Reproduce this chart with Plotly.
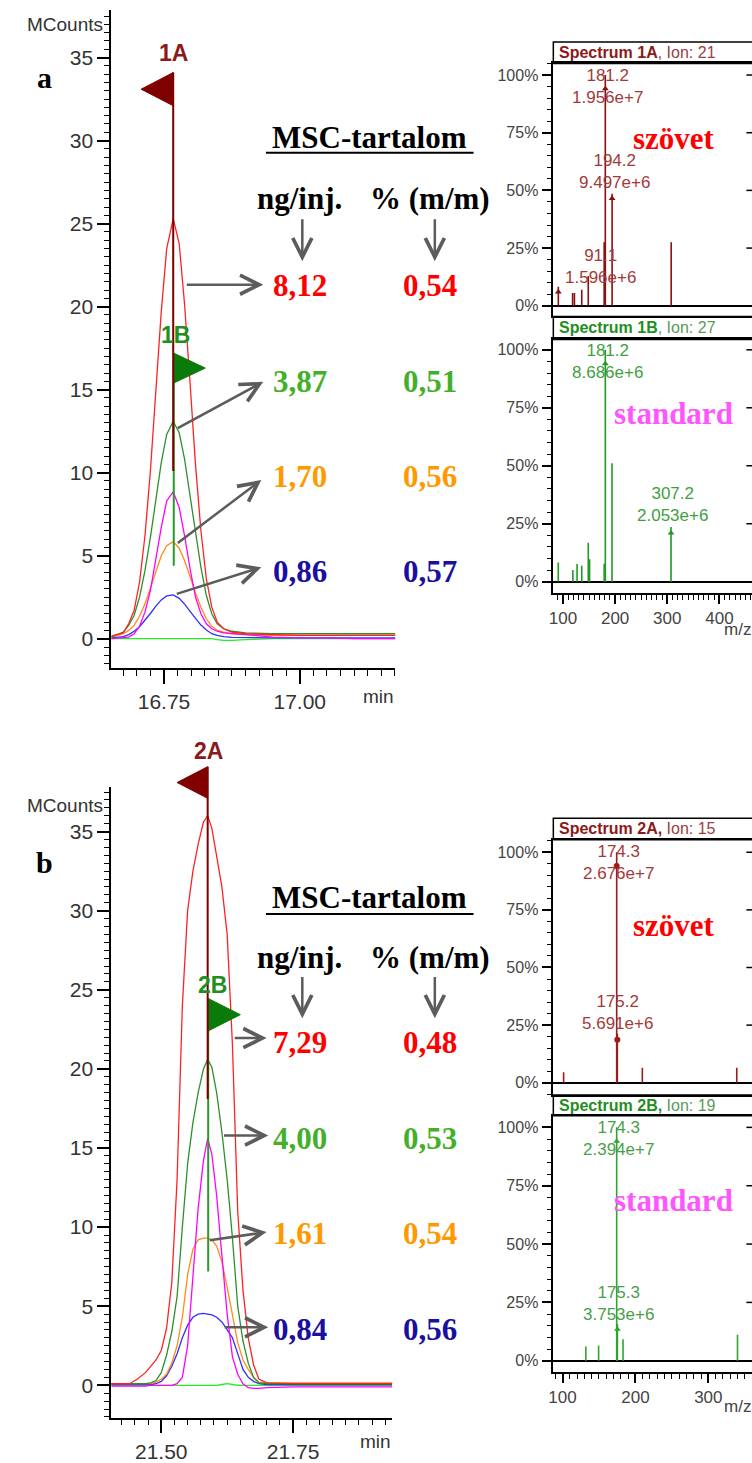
import plotly.graph_objects as go

W, H = 752, 1463
def px(x): return x / W
def py(y): return 1 - y / H

SERIF = "Liberation Serif"
SANS = "Liberation Sans"

# ---------------- chromatogram a (MCounts vs min) ----------------
time_a = [16.653, 16.675, 16.685, 16.695, 16.705, 16.715, 16.725, 16.735, 16.745, 16.755,
          16.767, 16.778, 16.788, 16.798, 16.808, 16.818, 16.828, 16.838, 16.848, 16.86,
          16.875, 16.9, 16.95, 17.0, 17.05, 17.1, 17.176]
red_a = [0.15, 0.35, 0.9, 1.7, 3.4, 6.2, 10.1, 14.8, 19.7, 23.5, 25.3, 23.8, 20.1, 15.4, 10.5,
         6.5, 3.6, 1.9, 1.0, 0.6, 0.4, 0.3, 0.25, 0.2, 0.2, 0.2, 0.2]
green_a = [0.1, 0.4, 0.8, 1.4, 2.5, 4.1, 6.1, 8.4, 10.6, 12.3, 13.1, 12.4, 10.8, 8.6, 6.3,
           4.3, 2.6, 1.5, 0.9, 0.6, 0.45, 0.35, 0.3, 0.3, 0.3, 0.3, 0.3]
magenta_a = [0.0, 0.05, 0.1, 0.3, 0.75, 1.6, 2.9, 4.8, 6.7, 8.3, 8.85, 7.9, 6.2, 4.2, 2.5,
             1.5, 0.9, 0.6, 0.45, 0.35, 0.3, 0.25, 0.1, 0.05, 0.05, 0.0, 0.0]
orange_a = [0.1, 0.3, 0.5, 0.8, 1.35, 2.1, 3.05, 4.05, 5.0, 5.6, 5.85, 5.45, 4.7, 3.75, 2.75,
            1.9, 1.2, 0.75, 0.5, 0.4, 0.3, 0.25, 0.2, 0.2, 0.2, 0.2, 0.2]
blue_a = [0.05, 0.13, 0.25, 0.45, 0.72, 1.09, 1.52, 1.96, 2.34, 2.58, 2.64, 2.43, 2.08, 1.65, 1.21,
          0.82, 0.52, 0.3, 0.2, 0.12, 0.08, 0.06, 0.05, 0.05, 0.05, 0.05, 0.05]
lime_a = [0.0, 0.0, 0.0, 0.0, 0.0, 0.0, 0.0, 0.0, 0.0, 0.0, 0.0, 0.0, 0.0, 0.0, 0.0,
          0.0, 0.0, 0.0, -0.05, -0.1, -0.1, -0.05, 0.0, 0.0, 0.0, 0.0, 0.0]

# ---------------- chromatogram b ----------------
time_b = [21.405, 21.44, 21.455, 21.47, 21.48, 21.49, 21.50, 21.51, 21.52, 21.53,
          21.54, 21.55, 21.56, 21.57, 21.58, 21.588, 21.596, 21.605, 21.615, 21.625,
          21.635, 21.645, 21.655, 21.665, 21.675, 21.685, 21.70, 21.75, 21.80, 21.85, 21.938]
red_b = [0.1, 0.1, 0.4, 0.8, 1.2, 1.6, 2.2, 3.6, 6.5, 13, 24, 30, 32.5, 34.2, 35.6, 36.0,
         35.2, 33.5, 31.5, 28.5, 21.5, 11, 6, 3, 1.3, 0.4, 0.15, 0.1, 0.1, 0.1, 0.1]
green_b = [0.1, 0.1, 0.1, 0.1, 0.15, 0.3, 0.8, 1.9, 3.4, 5.6, 10, 14, 16.6, 18.5, 20.0, 20.6,
           20.1, 18.5, 16, 13, 9.3, 5, 2.8, 1.4, 0.5, 0.15, 0.1, 0.1, 0.1, 0.1, 0.1]
magenta_b = [-0.05, -0.05, -0.05, -0.05, 0.0, 0.0, 0.0, 0.0, 0.0, 0.1, 0.5, 2.5, 6.8, 11.2, 14.2,
             15.6, 14.6, 12, 8.2, 4.5, 1.8, 0.7, 0.1, -0.15, -0.2, -0.2, -0.15, -0.1, -0.1, -0.1, -0.1]
orange_b = [0.1, 0.1, 0.1, 0.1, 0.1, 0.2, 0.4, 0.7, 1.4, 2.5, 4.3, 7.0, 8.6, 9.2, 9.3, 9.3,
            9.2, 8.8, 7.8, 6.2, 4.5, 2.7, 1.6, 1.0, 0.5, 0.2, 0.15, 0.15, 0.15, 0.15, 0.15]
blue_b = [0.05, 0.05, 0.05, 0.05, 0.05, 0.1, 0.25, 0.6, 1.2, 2.0, 3.0, 3.8, 4.3, 4.5, 4.55, 4.5,
          4.45, 4.3, 4.0, 3.5, 3.0, 2.0, 1.0, 0.5, 0.25, 0.1, 0.05, 0.05, 0.05, 0.05, 0.05]
lime_b = [0.0, 0.0, 0.0, 0.0, 0.0, 0.0, 0.0, 0.0, 0.0, 0.0, 0.0, 0.0, 0.0, 0.0, 0.0, 0.0,
          0.0, 0.0, 0.05, 0.1, 0.05, 0.0, 0.0, 0.0, 0.0, 0.0, 0.0, 0.0, 0.0, 0.0, 0.0]

# ---------------- peak markers (flags) ----------------
mk_a_names = ["1A", "1B"]
mk_a_time = [16.767, 16.768]
mk_a_top = [34.1, 17.2]
mk_a_flagbot = [32.1, 15.4]
mk_a_linebot = [10.1, 4.4]
mk_a_tip = [16.708, 16.826]
mk_a_label = [(16.767, 35.3), (16.772, 18.3)]

mk_b_names = ["2A", "2B"]
mk_b_time = [21.588, 21.589]
mk_b_top = [39.1, 24.45]
mk_b_flagbot = [37.1, 22.4]
mk_b_linebot = [18.1, 7.2]
mk_b_tip = [21.530, 21.650]
mk_b_label = [(21.590, 40.1), (21.598, 25.3)]

# ---------------- mass spectra ----------------
mz_1A = [91.1, 118.5, 122.0, 136.0, 148.5, 179.0, 181.2, 194.2, 307.5]
int_1A = [8.2, 5.5, 5.5, 6.9, 12.9, 27.5, 100, 48.5, 27.5]
mz_1B = [91.0, 119.0, 127.0, 136.0, 148.5, 151.0, 179.0, 181.2, 194.0, 307.2]
int_1B = [8.3, 5.0, 7.6, 6.9, 16.8, 9.7, 7.7, 100, 51.1, 23.6]
mz_2A = [101.5, 174.3, 175.2, 209.5, 339.0]
int_2A = [4.6, 100, 21.3, 6.5, 6.5]
mz_2B = [132.0, 149.5, 174.3, 175.3, 183.0, 340.0]
int_2B = [6.1, 6.5, 100, 15.7, 9.2, 11.1]

pk_1A = ([91.1, 181.2, 194.2], [6.0, 94.0, 46.5])
pk_1B = ([181.2, 307.2], [94.0, 21.0])
pk_2A = ([174.3, 175.2], [94.0, 18.7])
pk_2B = ([174.3, 175.3], [94.0, 13.5])

lab_1A = [("181.2<br>1.956e+7", 185.7, 95.2), ("194.2<br>9.497e+6", 198.3, 58.0), ("91.1<br>1.596e+6", 172.9, 17.2)]
lab_1B = [("181.2<br>8.686e+6", 185.7, 95.1), ("307.2<br>2.053e+6", 310.1, 33.1)]
lab_2A = [("174.3<br>2.676e+7", 176.4, 95.4), ("175.2<br>5.691e+6", 175.3, 30.5)]
lab_2B = [("174.3<br>2.394e+7", 176.4, 95.4), ("175.3<br>3.753e+6", 176.4, 24.6)]

# ---------------- MSC content table ----------------
ng_a = ["8,12", "3,87", "1,70", "0,86"]
pct_a = ["0,54", "0,51", "0,56", "0,57"]
ng_b = ["7,29", "4,00", "1,61", "0,84"]
pct_b = ["0,48", "0,53", "0,54", "0,56"]
row_colors = ["#ff0000", "#44b02a", "#ff9900", "#1a0f9f"]

chrom_colors = {"lime": "#22ee22", "blue": "#3030ff", "orange": "#ff8c1a",
                "magenta": "#ff00ff", "green": "#2e8f2e", "red": "#ff2222"}

fig = go.Figure()

def add_chrom(t, series, xa, ya):
    for name, vals in series:
        fig.add_trace(go.Scatter(x=t, y=vals, mode="lines", line=dict(color=chrom_colors[name], width=1.3),
                                 xaxis=xa, yaxis=ya, hoverinfo="skip", showlegend=False))

add_chrom(time_a, [("lime", lime_a), ("blue", blue_a), ("orange", orange_a), ("magenta", magenta_a),
                   ("green", green_a), ("red", red_a)], "x", "y")
add_chrom(time_b, [("lime", lime_b), ("blue", blue_b), ("orange", orange_b), ("magenta", magenta_b),
                   ("green", green_b), ("red", red_b)], "x2", "y2")

flag_cols = ["#800000", "#0a7a0a"]
line_cols = ["#7a0000", "#2a9a2a"]
label_cols = ["#8b1a1a", "#1f8f1f"]

def add_markers(names, tm, top, fbot, lbot, tip, labels, xa, ya):
    for i in [1, 0]:
        fig.add_trace(go.Scatter(x=[tm[i], tm[i]], y=[top[i], lbot[i]], mode="lines",
                                 line=dict(color=line_cols[i], width=2), xaxis=xa, yaxis=ya,
                                 hoverinfo="skip", showlegend=False))
        fig.add_trace(go.Scatter(x=[tm[i], tm[i], tip[i], tm[i]],
                                 y=[top[i], fbot[i], (top[i] + fbot[i]) / 2, top[i]],
                                 mode="lines", fill="toself", fillcolor=flag_cols[i],
                                 line=dict(color=flag_cols[i], width=1), xaxis=xa, yaxis=ya,
                                 hoverinfo="skip", showlegend=False))
        fig.add_annotation(x=labels[i][0], y=labels[i][1], xref=xa, yref=ya, text="<b>%s</b>" % names[i],
                           showarrow=False, font=dict(family=SANS, size=23, color=label_cols[i]),
                           xanchor="center", yanchor="middle")

add_markers(mk_a_names, mk_a_time, mk_a_top, mk_a_flagbot, mk_a_linebot, mk_a_tip, mk_a_label, "x7", "y7")
add_markers(mk_b_names, mk_b_time, mk_b_top, mk_b_flagbot, mk_b_linebot, mk_b_tip, mk_b_label, "x8", "y8")

# spectra
spec_defs = [
    ("3", mz_1A, int_1A, pk_1A, lab_1A, "#8a0f0f", "#a33a3a"),
    ("4", mz_1B, int_1B, pk_1B, lab_1B, "#229922", "#3f9f3f"),
    ("5", mz_2A, int_2A, pk_2A, lab_2A, "#9a1c1c", "#a33a3a"),
    ("6", mz_2B, int_2B, pk_2B, lab_2B, "#2fa62f", "#4aa04a"),
]
spec_xrange = {"3": [81.5, 462.5], "4": [81.5, 462.5], "5": [87.4, 359.9], "6": [87.4, 359.9]}
pk_symbols = {"3": "triangle-up", "4": "triangle-up", "5": "circle", "6": "triangle-up"}
for sid, mz, inten, pk, labs, bc, lc in spec_defs:
    xs, ys = [], []
    for m, v in zip(mz, inten):
        xs += [m, m, None]
        ys += [0, v, None]
    fig.add_trace(go.Scatter(x=xs, y=ys, mode="lines", line=dict(color=bc, width=1.6),
                             xaxis="x" + sid, yaxis="y" + sid, hoverinfo="skip", showlegend=False))
    fig.add_trace(go.Scatter(x=pk[0], y=pk[1], mode="markers",
                             marker=dict(symbol=pk_symbols[sid], size=6, color=bc),
                             xaxis="x" + sid, yaxis="y" + sid, hoverinfo="skip", showlegend=False))
    # mirrored ticks at right edge
    fig.add_trace(go.Scatter(x=[spec_xrange[sid][1]] * 4, y=[25, 50, 75, 100], mode="markers",
                             marker=dict(symbol="line-ew", size=8, line=dict(color="black", width=1.5)),
                             cliponaxis=False, xaxis="x" + sid, yaxis="y" + sid,
                             hoverinfo="skip", showlegend=False))
    for txt, xm, yv in labs:
        fig.add_annotation(x=xm, y=yv, xref="x" + sid, yref="y" + sid, text=txt, showarrow=False,
                           font=dict(family=SANS, size=17, color=lc), xanchor="center", yanchor="middle")

# ---------------- axes ----------------
tickfont_c = dict(family=SANS, size=21, color="#333")
def chrom_axes(xdom, ydom, xr, yr, xt, xtt, xanchor_name, yanchor_name):
    xa = dict(domain=xdom, range=xr, anchor=yanchor_name, showline=True, linecolor="black", linewidth=1.5,
              showgrid=False, zeroline=False, ticks="outside", tickmode="array", tickvals=xt, ticktext=xtt,
              ticklen=14, tickwidth=1.5, tickcolor="black", tickfont=tickfont_c,
              minor=dict(ticks="outside", tickmode="linear", tick0=xt[0], dtick=0.025, ticklen=6,
                         tickcolor="black", tickwidth=1.2, showgrid=False))
    ya = dict(domain=ydom, range=yr, anchor=xanchor_name, showline=True, linecolor="black", linewidth=2,
              showgrid=False, zeroline=False, ticks="outside", tickmode="linear", tick0=0, dtick=5,
              ticklen=12, tickwidth=1.5, tickcolor="black", tickfont=tickfont_c,
              minor=dict(ticks="outside", tickmode="linear", tick0=0, dtick=0.5, ticklen=5,
                         tickcolor="black", tickwidth=1.2, showgrid=False))
    return xa, ya

xa1, ya1 = chrom_axes([px(107), px(393)], [py(674), py(10)], [16.653, 17.176], [-1.792, 37.87],
                      [16.75, 17.0], ["16.75", "17.00"], "x", "y")
xa2, ya2 = chrom_axes([px(107), px(390)], [py(1429.3), py(793.3)], [21.4052, 21.9384], [-2.04, 37.83],
                      [21.5, 21.75], ["21.50", "21.75"], "x2", "y2")

tickfont_s = dict(family=SANS, size=16, color="#444")
def spec_axes(sid, ydom, yr, show_x):
    xa = dict(domain=[px(552), 1.0], range=spec_xrange[sid], anchor="y" + sid, showline=True, mirror=True,
              linecolor="black", linewidth=1.5, showgrid=False, zeroline=False,
              ticks="outside" if show_x else "", showticklabels=show_x, tickmode="array",
              tickvals=[100, 200, 300, 400], ticklen=9, tickwidth=1.5, tickcolor="black",
              tickfont=dict(family=SANS, size=17, color="#444"),
              minor=dict(ticks="outside" if show_x else "", tickmode="linear", tick0=0, dtick=10,
                         ticklen=5, tickcolor="black", tickwidth=1.2, showgrid=False))
    ya = dict(domain=ydom, range=yr, anchor="x" + sid, showline=True, linecolor="black", linewidth=1.5,
              showgrid=False, zeroline=True, zerolinecolor="black", zerolinewidth=1.5,
              ticks="outside", tickmode="array", tickvals=[0, 25, 50, 75, 100],
              ticktext=["0%", "25%", "50%", "75%", "100%"], ticklen=10, tickwidth=1.5, tickcolor="black",
              tickfont=tickfont_s,
              minor=dict(ticks="outside", tickmode="linear", tick0=0, dtick=5, ticklen=5,
                         tickcolor="black", tickwidth=1.2, showgrid=False))
    return xa, ya

xa3, ya3 = spec_axes("3", [py(319), py(64)], [-4.6, 105.0], False)
xa4, ya4 = spec_axes("4", [py(598), py(342.3)], [-4.92, 104.45], True)
xa5, ya5 = spec_axes("5", [py(1104), py(846.7)], [-5.29, 105.42], False)
xa6, ya6 = spec_axes("6", [py(1383.3), py(1125)], [-4.8, 104.97], True)

overlay_common = dict(visible=False, showgrid=False, zeroline=False)
fig.update_layout(
    width=W, height=H, margin=dict(l=0, r=0, t=0, b=0, pad=0),
    paper_bgcolor="white", plot_bgcolor="rgba(0,0,0,0)", showlegend=False, hovermode=False,
    xaxis=xa1, yaxis=ya1, xaxis2=xa2, yaxis2=ya2,
    xaxis3=xa3, yaxis3=ya3, xaxis4=xa4, yaxis4=ya4,
    xaxis5=xa5, yaxis5=ya5, xaxis6=xa6, yaxis6=ya6,
    xaxis7=dict(domain=[px(107), px(393)], range=[16.653, 17.176], anchor="y7", **overlay_common),
    yaxis7=dict(domain=[py(674), 1.0], range=[-1.792, 38.47], anchor="x7", **overlay_common),
    xaxis8=dict(domain=[px(107), px(390)], range=[21.4052, 21.9384], anchor="y8", **overlay_common),
    yaxis8=dict(domain=[py(1429.3), py(740)], range=[-2.04, 41.17], anchor="x8", **overlay_common),
)

def text(x, y, t, size, color="black", family=SERIF, xanchor="center"):
    fig.add_annotation(x=px(x), y=py(y), xref="paper", yref="paper", text=t, showarrow=False,
                       font=dict(family=family, size=size, color=color), xanchor=xanchor, yanchor="middle")

def arrow(tail, tip):
    fig.add_annotation(x=px(tip[0]), y=py(tip[1]), xref="paper", yref="paper", text="",
                       showarrow=True, ax=tail[0] - tip[0], ay=tail[1] - tip[1],
                       arrowhead=5, arrowsize=1.5, arrowwidth=2.5, arrowcolor="#5c5c5c")

# axis titles
text(60, 25, "MCounts", 19, "#333", SANS)
text(60, 812, "MCounts", 19, "#333", SANS)
text(376, 702, "min", 19, "#333", SANS)
text(373, 1453, "min", 19, "#333", SANS)
text(737, 635, "m/z", 17, "#444", SANS)
text(737, 1418, "m/z", 17, "#444", SANS)

# panel letters
text(40, 78, "<b>a</b>", 30)
text(40, 870, "<b>b</b>", 30)

# tables
for (ytitle, yunder, yhdr, arr_top, arr_bot, rows, ng, pc, arrs) in [
    (138.3, 154, 200, 220, 263.3, [287.5, 384.2, 480.8, 575.8], ng_a, pct_a,
     [((182, 287), (260, 287)), ((173, 432), (260, 385)), ((173, 548), (258, 484)), ((172, 599), (258, 572))]),
    (905, 921.5, 965, 984, 1026.7, [1050.8, 1147.5, 1244.2, 1340], ng_b, pct_b,
     [((230, 1046.7), (263.3, 1046.7)), ((219.3, 1145), (265, 1145)), ((205, 1250.7), (263.3, 1242.3)),
      ((220, 1338.3), (265, 1338.3))]),
]:
    text(366.7, ytitle, "<b>MSC-tartalom</b>", 31)
    fig.add_shape(type="line", xref="paper", yref="paper", x0=px(262.7), x1=px(471.7), y0=py(yunder), y1=py(yunder),
                  line=dict(color="black", width=2))
    text(296.7, yhdr, "<b>ng/inj.</b>", 31)
    text(427.7, yhdr, "<b>% (m/m)</b>", 31)
    arrow((299.3, arr_top), (299.3, arr_bot))
    arrow((432.7, arr_top), (432.7, arr_bot))
    for i, yr_ in enumerate(rows):
        text(296.7, yr_, "<b>%s</b>" % ng[i], 31, row_colors[i])
        text(427.5, yr_, "<b>%s</b>" % pc[i], 31, row_colors[i])
    for tail, tip in arrs:
        arrow(tail, tip)

# spectrum title bars
for (ytop, ybot, t, col) in [
    (42.3, 64, '<b>Spectrum 1A</b><span style="color:#9a4040">, Ion: 21</span>', "#8b1a1a"),
    (319, 342.3, '<b>Spectrum 1B</b><span style="color:#5a9a5a">, Ion: 27</span>', "#1f8f1f"),
    (825, 846.7, '<b>Spectrum 2A,</b><span style="color:#9a4040"> Ion: 15</span>', "#8b1a1a"),
    (1104, 1125, '<b>Spectrum 2B,</b><span style="color:#5a9a5a"> Ion: 19</span>', "#1f8f1f"),
]:
    fig.add_shape(type="rect", xref="paper", yref="paper", x0=px(552), x1=1.02, y0=py(ybot), y1=py(ytop),
                  line=dict(color="black", width=1.5), fillcolor="rgba(0,0,0,0)")
    text(556, (ytop + ybot) / 2, t, 16, col, SANS, xanchor="left")

# sample labels on spectra
text(673.3, 140, "<b>szövet</b>", 31, "#ff0000")
text(673.3, 416.7, "<b>standard</b>", 31, "#ff55ff")
text(673.3, 933.3, "<b>szövet</b>", 31, "#ff0000")
text(673.3, 1210, "<b>standard</b>", 31, "#ff55ff")

fig.write_html("out.html")
